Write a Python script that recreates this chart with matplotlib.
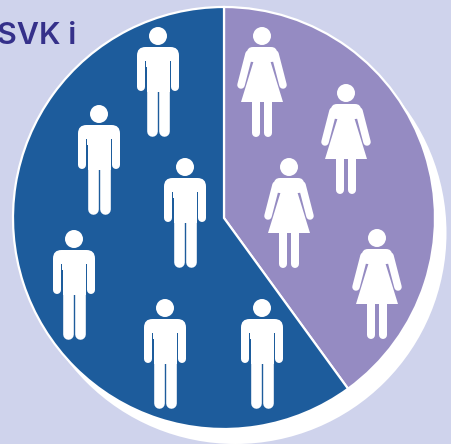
import matplotlib
matplotlib.use("Agg")
import matplotlib.pyplot as plt
from matplotlib.patches import Circle, FancyBboxPatch, Polygon, Rectangle

W, H = 451, 444
labels = ["Kvinnor", "Män"]
shares = [40, 60]
colors = ["#958BC2", "#1D5C9C"]
title_text = "SVK i"
men_heads = [(158, 36), (99, 114), (185, 167), (74, 239), (165, 308), (262, 308)]
women_heads = [(262, 36), (346, 93), (289, 167), (377, 238)]

fig = plt.figure(figsize=(W / 100, H / 100), dpi=100, facecolor="#CFD3EC")
ax = fig.add_axes([0, 0, 1, 1])
ax.set_facecolor("#CFD3EC")


def Y(py):
    return H - py


def px(v):
    return v * 0.72


ax.add_patch(Circle((235.5, Y(233)), 211, fc="white", ec="none", zorder=1))
ax.pie(shares, colors=colors, startangle=90, counterclock=False, center=(224, Y(218)),
       radius=211, frame=True,
       wedgeprops=dict(edgecolor="white", linewidth=1.6, zorder=2))
ax.set_xlim(0, W)
ax.set_ylim(0, H)
ax.set_aspect("equal")
ax.axis("off")
ax.text(-3, Y(44), title_text, fontsize=22, fontweight="semibold", family="Inter",
        color="#35308A", ha="left", va="baseline", zorder=3)


def box(x0, x1, y0, y1, r):
    ax.add_patch(FancyBboxPatch((x0 + r, Y(y1) + r), x1 - x0 - 2 * r, y1 - y0 - 2 * r,
                                boxstyle=f"round,pad={r},rounding_size={r}",
                                fc="white", ec="none", zorder=4))


def line(x0, y0, x1, y1, width):
    ax.plot([x0, x1], [Y(y0), Y(y1)], color="white", lw=px(width),
            solid_capstyle="round", zorder=4)


def man(cx, cy):
    ax.add_patch(Circle((cx, Y(cy)), 9, fc="white", ec="none", zorder=4))
    box(cx - 21, cx + 21, cy + 11, cy + 31, 8.5)
    ax.add_patch(Rectangle((cx - 15, Y(cy + 25)), 30, 8, fc="white", ec="none", zorder=4))
    line(cx - 17, cy + 22, cx - 17, cy + 51, 8)
    line(cx + 17, cy + 22, cx + 17, cy + 51, 8)
    # separate arms from the torso below the shoulders
    for sx in (-1, 1):
        ax.add_patch(Rectangle((cx + sx * 12.2 - 0.6, Y(cy + 58)), 1.2, 33,
                               fc=colors[1], ec="none", zorder=4.5))
    ax.add_patch(Rectangle((cx - 11.5, Y(cy + 56)), 23, 45, fc="white", ec="none", zorder=4))
    line(cx - 6.2, cy + 50, cx - 6.2, cy + 95, 10.6)
    line(cx + 6.2, cy + 50, cx + 6.2, cy + 95, 10.6)


def woman(cx, cy):
    ax.add_patch(Circle((cx, Y(cy)), 9, fc="white", ec="none", zorder=4))
    box(cx - 15, cx + 15, cy + 11, cy + 26, 6)
    pts = [(-9, 20), (9, 20), (8, 24), (21, 66), (-21, 66), (-8, 24)]
    ax.add_patch(Polygon([(cx + a, Y(cy + b)) for a, b in pts], fc="white", ec="none", zorder=4))
    line(cx - 13, cy + 18, cx - 21, cy + 49, 7.5)
    line(cx + 13, cy + 18, cx + 21, cy + 49, 7.5)
    line(cx - 6, cy + 60, cx - 6, cy + 97, 8)
    line(cx + 6, cy + 60, cx + 6, cy + 97, 8)


for c in men_heads:
    man(*c)
for c in women_heads:
    woman(*c)

fig.savefig("out.png", dpi=100, facecolor=fig.get_facecolor())
